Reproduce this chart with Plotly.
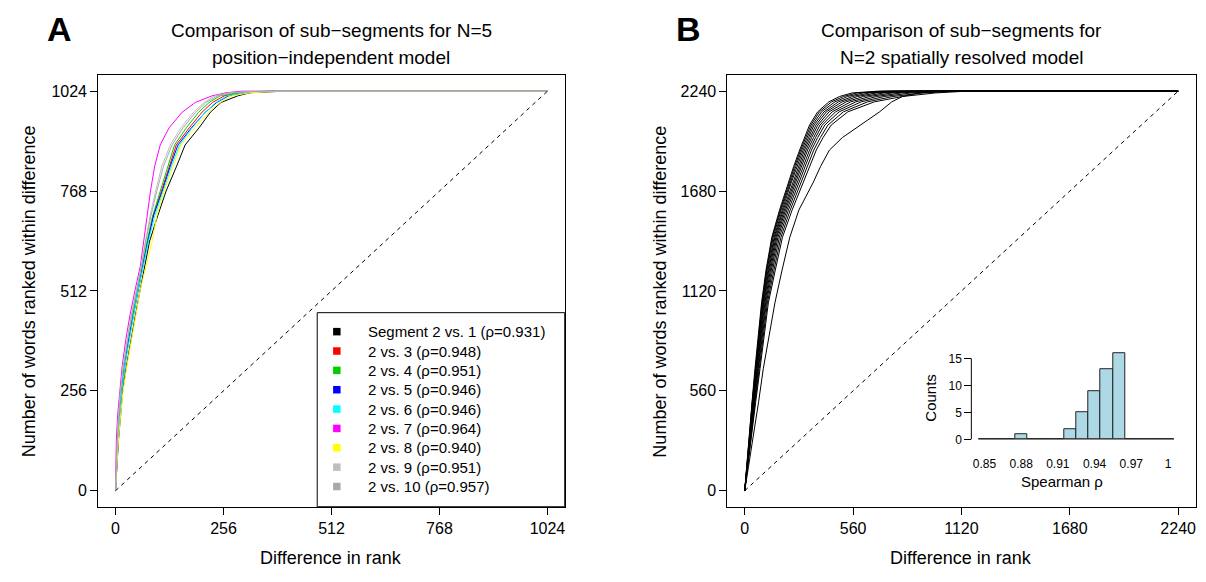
import plotly.graph_objects as go

W, H = 1206, 582
# the page body adds an 8px margin, so the figure is drawn 16px smaller
OFF = 8
FW, FH = W - 2 * OFF, H - 2 * OFF
FONT = "Liberation Sans, Arial, sans-serif"

# ---------------- Panel A data ----------------
a_max = 1024
a_ticks = [0, 256, 512, 768, 1024]
# y levels (number of words) and the rank difference where each curve reaches them
a_levels = [0, 64, 128, 192, 256, 320, 384, 448, 512, 576, 640,
            704, 768, 832, 886, 930, 970, 995, 1012, 1020, 1024]
seg_2v1 = [0, 3, 7, 12, 17, 26, 36, 47, 58, 69, 81, 100, 120, 145, 165, 198, 225, 250, 290, 320, 400]
seg_2v3 = [0, 2, 5, 9, 14, 21, 31, 41, 52, 64, 76, 89, 109, 127, 144, 175, 205, 230, 258, 300, 370]
seg_2v4 = [0, 2, 5, 9, 14, 21, 30, 40, 52, 63, 75, 88, 106, 123, 140, 168, 197, 222, 248, 290, 360]
seg_2v5 = [0, 3, 6, 10, 15, 22, 31, 42, 53, 65, 77, 90, 111, 130, 148, 180, 213, 240, 268, 310, 380]
seg_2v6 = [0, 2, 5, 10, 15, 22, 32, 42, 53, 66, 78, 93, 113, 133, 152, 182, 213, 238, 265, 305, 375]
seg_2v7 = [0, 1, 2, 5, 10, 16, 24, 34, 46, 59, 67, 75, 83, 93, 106, 127, 158, 189, 229, 262, 300]
seg_2v8 = [0, 3, 7, 12, 18, 27, 38, 48, 58, 72, 87, 98, 115, 137, 155, 188, 221, 248, 276, 320, 390]
seg_2v9 = [0, 2, 4, 7, 12, 18, 27, 37, 49, 61, 71, 82, 95, 110, 130, 155, 185, 210, 236, 270, 340]
seg_2v10 = [0, 2, 4, 8, 12, 19, 28, 38, 50, 62, 72, 84, 98, 114, 134, 160, 190, 215, 242, 280, 350]
a_names = ["Segment 2 vs. 1", "2 vs. 3", "2 vs. 4", "2 vs. 5", "2 vs. 6",
           "2 vs. 7", "2 vs. 8", "2 vs. 9", "2 vs. 10"]
a_rho = [0.931, 0.948, 0.951, 0.946, 0.946, 0.964, 0.940, 0.951, 0.957]
a_colors = ["#000000", "#FF0000", "#00CD00", "#0000FF", "#00FFFF",
            "#FF00FF", "#FFFF00", "#BEBEBE", "#A9A9A9"]
a_series = [seg_2v1, seg_2v3, seg_2v4, seg_2v5, seg_2v6,
            seg_2v7, seg_2v8, seg_2v9, seg_2v10]

# ---------------- Panel B data ----------------
b_max = 2240
b_ticks = [0, 560, 1120, 1680, 2240]
b_levels = [0, 158, 315, 500, 684, 868, 1053, 1237, 1421, 1574,
            1726, 1818, 1910, 1980, 2050, 2124, 2180, 2210, 2230, 2240]
b_c01 = [0, 11, 24, 38, 53, 70, 87, 110, 140, 180, 224, 253, 284, 310, 335, 377, 435, 490, 555, 690]
b_c02 = [0, 11, 25, 39, 55, 72, 89, 113, 143, 184, 229, 258, 289, 316, 342, 386, 449, 510, 581, 718]
b_c03 = [0, 12, 26, 40, 56, 74, 92, 116, 147, 188, 234, 264, 295, 322, 350, 397, 466, 532, 611, 750]
b_c04 = [0, 12, 27, 42, 58, 76, 94, 120, 152, 194, 240, 270, 302, 330, 358, 410, 484, 558, 645, 787]
b_c05 = [0, 13, 27, 44, 60, 79, 97, 124, 156, 199, 247, 277, 309, 338, 368, 422, 503, 584, 680, 823]
b_c06 = [0, 13, 29, 45, 63, 81, 100, 128, 161, 205, 254, 284, 317, 346, 378, 436, 524, 614, 718, 865]
b_c07 = [0, 14, 30, 47, 65, 84, 104, 133, 166, 211, 261, 292, 325, 356, 389, 452, 548, 646, 761, 911]
b_c08 = [0, 15, 31, 49, 68, 88, 108, 138, 172, 218, 270, 301, 335, 366, 401, 469, 574, 682, 809, 961]
b_c09 = [0, 15, 32, 51, 71, 91, 112, 144, 179, 226, 279, 311, 345, 377, 414, 488, 602, 721, 860, 1017]
b_c10 = [0, 16, 34, 54, 75, 96, 117, 151, 187, 235, 290, 323, 357, 391, 430, 510, 635, 766, 920, 1081]
b_c11 = [0, 17, 36, 57, 79, 100, 122, 158, 195, 245, 302, 335, 370, 405, 447, 533, 670, 815, 985, 1150]
b_outlier = [0, 23, 48, 72, 96, 125, 156, 193, 233, 280, 353, 392, 438, 505, 598, 697, 760, 815, 900, 1050]
b_series = [b_c01, b_c02, b_c03, b_c04, b_c05, b_c06, b_c07, b_c08,
            b_c09, b_c10, b_c11, b_outlier]

# inset histogram of Spearman rho
rho_bins = [0.85, 0.86, 0.87, 0.88, 0.89, 0.90, 0.91, 0.92,
            0.93, 0.94, 0.95, 0.96, 0.97, 0.98, 0.99, 1.00]
rho_counts = [0, 0, 0, 1, 0, 0, 0, 2, 5, 9, 13, 16, 0, 0, 0, 0]
rho_width = 0.01
rho_ticks = [0.85, 0.88, 0.91, 0.94, 0.97, 1.0]
rho_ticktext = ["0.85", "0.88", "0.91", "0.94", "0.97", "1"]
count_ticks = [0, 5, 10, 15]


def px_x(p):
    return (p - OFF) / FW


def px_y(p):
    return 1 - (p - OFF) / FH


fig = go.Figure()

# Panel A curves
for xs, col, name in zip(a_series, a_colors, a_names):
    fig.add_trace(go.Scatter(x=xs + [a_max], y=a_levels + [a_max], mode="lines",
                             line=dict(color=col, width=1), name=name,
                             showlegend=False, xaxis="x", yaxis="y"))
fig.add_trace(go.Scatter(x=[0, a_max], y=[0, a_max], mode="lines",
                         line=dict(color="black", width=1, dash="4px,4px"),
                         showlegend=False, xaxis="x", yaxis="y"))

# Panel B curves
for xs in b_series:
    fig.add_trace(go.Scatter(x=xs + [b_max], y=b_levels + [b_max], mode="lines",
                             line=dict(color="black", width=1),
                             showlegend=False, xaxis="x2", yaxis="y2"))
fig.add_trace(go.Scatter(x=[0, b_max], y=[0, b_max], mode="lines",
                         line=dict(color="black", width=1, dash="4px,4px"),
                         showlegend=False, xaxis="x2", yaxis="y2"))

# Inset histogram
fig.add_trace(go.Bar(x=rho_bins, y=rho_counts, width=rho_width,
                     marker=dict(color="#ADD8E6", line=dict(color="#222222", width=1)),
                     showlegend=False, xaxis="x3", yaxis="y3"))

ax_common = dict(showgrid=False, zeroline=False, showline=True, linecolor="black",
                 linewidth=1, mirror=True, ticks="outside", ticklen=7, tickcolor="black",
                 tickfont=dict(family=FONT, size=16, color="black"))

a_pad = 0.04 * a_max
b_pad = 0.04 * b_max
fig.update_layout(
    width=FW, height=FH,
    margin=dict(l=0, r=0, t=0, b=0),
    paper_bgcolor="white", plot_bgcolor="rgba(0,0,0,0)",
    font=dict(family=FONT, color="black"),
    xaxis=dict(domain=[px_x(92.7), px_x(562)], range=[-a_pad, a_max + a_pad],
               tickvals=a_ticks, anchor="y", **ax_common),
    yaxis=dict(domain=[px_y(513), px_y(76)], range=[-a_pad, a_max + a_pad],
               tickvals=a_ticks, anchor="x", **ax_common),
    xaxis2=dict(domain=[px_x(725.6), px_x(1196.5)], range=[-b_pad, b_max + b_pad],
                tickvals=b_ticks, anchor="y2", **ax_common),
    yaxis2=dict(domain=[px_y(513), px_y(76)], range=[-b_pad, b_max + b_pad],
                tickvals=b_ticks, anchor="x2", **ax_common),
    xaxis3=dict(domain=[px_x(978), px_x(1175)], range=[0.845, 1.005],
                tickvals=rho_ticks, ticktext=rho_ticktext, anchor="y3",
                showgrid=False, zeroline=False, showline=False,
                ticks="outside", ticklen=13, tickcolor="rgba(0,0,0,0)",
                tickfont=dict(family=FONT, size=12, color="black")),
    yaxis3=dict(domain=[px_y(445), px_y(354.5)], range=[0, 16.5],
                tickvals=count_ticks, anchor="free", position=px_x(971),
                showgrid=False, zeroline=False, showline=False,
                ticks="outside", ticklen=7, tickcolor="black",
                tickfont=dict(family=FONT, size=12, color="black")),
    bargap=0,
)

shapes = []
# inset y axis line (0 to 15 only) and histogram baseline
shapes.append(dict(type="line", xref="paper", yref="y3", x0=px_x(971), x1=px_x(971),
                   y0=count_ticks[0], y1=count_ticks[-1], line=dict(color="black", width=1)))
shapes.append(dict(type="line", xref="x3", yref="y3",
                   x0=rho_bins[0] - rho_width / 2, x1=rho_bins[-1] + rho_width / 2,
                   y0=0, y1=0, line=dict(color="#222222", width=1)))

# manual legend for panel A
shapes.append(dict(type="rect", xref="paper", yref="paper",
                   x0=px_x(313), x1=px_x(562), y0=px_y(513), y1=px_y(316.5),
                   line=dict(color="black", width=1), fillcolor="white", layer="above"))
annotations = []
row_y = [335.7, 355.3, 374.9, 394.5, 414.1, 433.7, 453.3, 472.9, 492.5]
for ry, col, name, r in zip(row_y, a_colors, a_names, a_rho):
    shapes.append(dict(type="rect", xref="paper", yref="paper",
                       x0=px_x(329), x1=px_x(336.5), y0=px_y(ry + 3.8), y1=px_y(ry - 3.8),
                       line=dict(width=0), fillcolor=col, layer="above"))
    annotations.append(dict(x=px_x(362), y=px_y(ry), xref="paper", yref="paper",
                            text=f"{name} (ρ={r:.3f})", showarrow=False,
                            xanchor="left", yanchor="middle",
                            font=dict(family=FONT, size=15, color="black")))

# panel letters and titles
for letter, lx in [("A", 54), ("B", 686)]:
    annotations.append(dict(x=px_x(lx), y=1, xref="paper", yref="paper", text=f"<b>{letter}</b>",
                            showarrow=False, xanchor="center", yanchor="top",
                            font=dict(family=FONT, size=34, color="black")))
titles = [(327, "Comparison of sub−segments for N=5", "position−independent model"),
          (961, "Comparison of sub−segments for", "N=2 spatially resolved model")]
for cx, l1, l2 in titles:
    annotations.append(dict(x=px_x(cx), y=px_y(31), xref="paper", yref="paper", text=l1,
                            showarrow=False, xanchor="center", yanchor="middle",
                            font=dict(family=FONT, size=19, color="black")))
    annotations.append(dict(x=px_x(cx), y=px_y(58), xref="paper", yref="paper", text=l2,
                            showarrow=False, xanchor="center", yanchor="middle",
                            font=dict(family=FONT, size=19, color="black")))

# axis titles
for cx in [327, 961]:
    annotations.append(dict(x=px_x(cx), y=px_y(565), xref="paper", yref="paper",
                            text="Difference in rank", showarrow=False,
                            xanchor="center", yanchor="middle",
                            font=dict(family=FONT, size=18, color="black")))
for cx in [24, 658]:
    annotations.append(dict(x=px_x(cx), y=px_y(295), xref="paper", yref="paper",
                            text="Number of words ranked within difference", showarrow=False,
                            textangle=-90, xanchor="center", yanchor="middle",
                            font=dict(family=FONT, size=18, color="black")))

# inset axis titles
annotations.append(dict(x=px_x(930), y=px_y(403), xref="paper", yref="paper", text="Counts",
                        showarrow=False, textangle=-90, xanchor="center", yanchor="middle",
                        font=dict(family=FONT, size=15, color="black")))
annotations.append(dict(x=px_x(1062), y=px_y(487), xref="paper", yref="paper", text="Spearman ρ",
                        showarrow=False, xanchor="center", yanchor="middle",
                        font=dict(family=FONT, size=15, color="black")))

fig.update_layout(shapes=shapes, annotations=annotations)

fig.write_html("out.html")
